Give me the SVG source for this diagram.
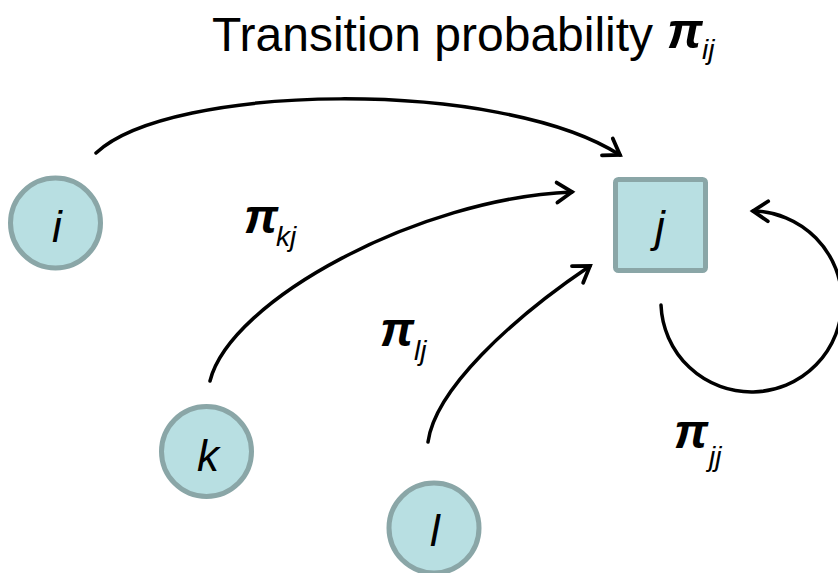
<svg xmlns="http://www.w3.org/2000/svg" width="838" height="573" viewBox="0 0 838 573">
<defs>
<style>
.node{fill:#b8dfe2;stroke:#8aa6a7;stroke-width:5}
.lbl{font-family:"Liberation Sans",Arial,sans-serif;font-style:italic;fill:#000}
.pi{font-family:"Liberation Sans",Arial,sans-serif;font-style:italic;font-weight:bold;fill:#000}
.t{font-family:"Liberation Sans",Arial,sans-serif;fill:#000}
.edge{fill:none;stroke:#000;stroke-width:3.5;stroke-linecap:round}
</style>
<marker id="ah" markerUnits="userSpaceOnUse" markerWidth="30" markerHeight="30" viewBox="-20 -15 30 30" refX="0" refY="0" orient="auto">
<path d="M-15,-10 L0,0 L-15,10" fill="none" stroke="#000" stroke-width="3.8" stroke-linecap="round" stroke-linejoin="miter"/>
</marker>
</defs>
<rect width="838" height="573" fill="#fff"/>
<g id="title">
<text class="t" x="212" y="51" font-size="48">Transition probability</text>
<text class="pi" x="667" y="48" font-size="50">π</text>
<text class="lbl" x="702" y="59" font-size="28">ij</text>
</g>
<g id="connectors">
<path class="edge" d="M96,153 C170,83 500,78 620,155" marker-end="url(#ah)"/>
<path class="edge" d="M210,381 C230,300 420,198 572,192" marker-end="url(#ah)"/>
<path class="edge" d="M428,442 C435,390 510,320 590,266" marker-end="url(#ah)"/>
<path class="edge" d="M661,305 A90.5 90.5 0 1 0 753,211" marker-end="url(#ah)"/>
</g>
<g id="node-i">
<circle class="node" cx="55.5" cy="223" r="45"/>
<text class="lbl" x="57" y="242" font-size="44" text-anchor="middle">i</text>
</g>
<g id="node-j">
<rect class="node" x="615.5" y="179.5" width="90" height="91" rx="3"/>
<text class="lbl" x="660" y="242" font-size="44" text-anchor="middle">j</text>
</g>
<g id="node-k">
<circle class="node" cx="206.5" cy="451.5" r="45"/>
<text class="lbl" x="208" y="471" font-size="44" text-anchor="middle">k</text>
</g>
<g id="node-l">
<circle class="node" cx="434" cy="528" r="45"/>
<text class="lbl" x="435" y="546" font-size="44" text-anchor="middle">l</text>
</g>
<g id="labels">
<text class="pi" x="244" y="233" font-size="48">π</text>
<text class="lbl" x="276" y="246" font-size="28">kj</text>
<text class="pi" x="380" y="346" font-size="48">π</text>
<text class="lbl" x="414" y="360" font-size="28">lj</text>
<text class="pi" x="674" y="448" font-size="48">π</text>
<text class="lbl" x="709" y="466" font-size="28">jj</text>
</g>
</svg>
